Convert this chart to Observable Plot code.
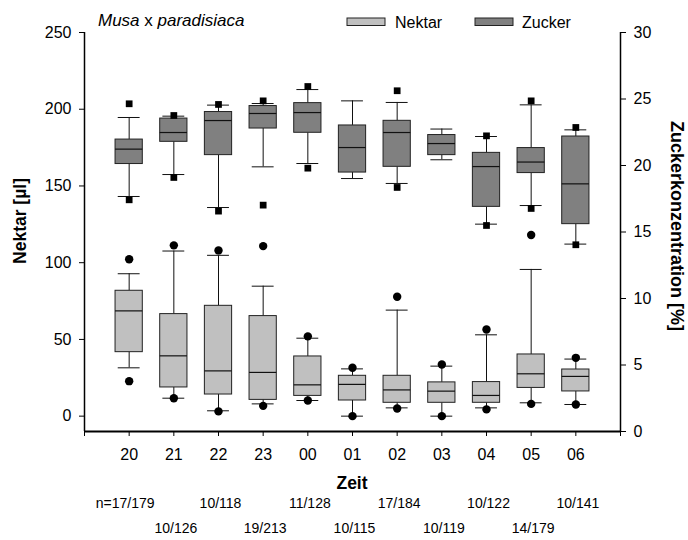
<!DOCTYPE html>
<html>
<head>
<meta charset="utf-8">
<script src="https://cdn.jsdelivr.net/npm/d3@7"></script>
<script src="https://cdn.jsdelivr.net/npm/@observablehq/plot@0.6"></script>
<style>
  html, body { margin: 0; padding: 0; background: #fff; }
  svg { display: block; }
</style>
</head>
<body>
<div id="chart"></div>
<script>
// ---- data ----
const hours = ["20","21","22","23","00","01","02","03","04","05","06"];
const nLabels = ["n=17/179","10/126","10/118","19/213","11/128","10/115","17/184","10/119","10/122","14/179","10/141"];
const seriesNames = ["Nektar", "Zucker"];
const seriesColors = ["#c0c0c0", "#808080"];

// Nektar [µl]
const nekOutHi   = [102.2, 111.3, 108.0, 110.8, 52.0, 31.5, 77.8, 33.7, 56.5, 118.0, 38.0];
const nekWhiskHi = [92.8, 107.6, 104.8, 84.7, 50.8, 30.8, 69.1, 32.6, 53.0, 95.6, 37.2];
const nekQ3      = [81.7, 66.5, 71.9, 65.2, 38.9, 26.3, 26.3, 22.0, 22.2, 40.2, 30.4];
const nekMed     = [68.6, 39.3, 29.5, 28.5, 20.4, 20.7, 17.1, 16.3, 13.5, 27.6, 25.9];
const nekQ1      = [41.7, 18.7, 14.1, 10.6, 13.2, 10.2, 8.7, 8.7, 8.7, 18.4, 16.1];
const nekWhiskLo = [31.5, 11.7, 3.5, 8.0, 10.2, 0.0, 5.4, 0.0, 5.4, 8.7, 7.6];
const nekOutLo   = [22.8, 11.7, 3.1, 6.7, 10.2, 0.0, 5.0, 0.0, 4.4, 8.0, 7.6];

// Zuckerkonzentration [%]
const zucOutHi   = [24.64, 23.76, 24.59, 24.86, 25.94, null, 25.62, null, 22.23, 24.86, 22.86];
const zucWhiskHi = [23.61, 23.71, 24.54, 24.66, 25.71, 24.86, 24.74, 22.74, 22.18, 24.56, 22.68];
const zucQ3      = [21.95, 23.53, 24.02, 24.47, 24.69, 23.01, 23.36, 22.29, 20.95, 21.31, 22.18];
const zucMed     = [21.23, 22.48, 23.38, 23.91, 23.98, 21.35, 22.48, 21.65, 19.92, 20.26, 18.62];
const zucQ1      = [20.11, 21.78, 20.78, 22.78, 22.46, 19.47, 19.90, 20.78, 16.89, 19.43, 15.59];
const zucWhiskLo = [17.67, 19.32, 16.84, 19.90, 20.15, 19.02, 18.65, 20.43, 15.59, 16.99, 14.09];
const zucOutLo   = [17.42, 19.10, 16.57, 17.02, 19.80, null, 18.35, null, 15.49, 16.77, 14.04];

const leftTicks = [0, 50, 100, 150, 200, 250];
const rightTicks = [0, 5, 10, 15, 20, 25, 30];

// ---- scales mapping: right axis (0..30 %) onto left units (-10..250) ----
const yMin = -10, yMax = 250, rMax = 30;
const toY = s => s == null ? null : yMin + s * (yMax - yMin) / rMax;
const fromY = v => (v - yMin) * rMax / (yMax - yMin);

const rows = hours.map((h, i) => ({
  x: i + 1, h, n: nLabels[i], idx: i,
  nOH: nekOutHi[i], nWH: nekWhiskHi[i], nQ3: nekQ3[i], nM: nekMed[i], nQ1: nekQ1[i], nWL: nekWhiskLo[i], nOL: nekOutLo[i],
  zOH: toY(zucOutHi[i]), zWH: toY(zucWhiskHi[i]), zQ3: toY(zucQ3[i]), zM: toY(zucMed[i]), zQ1: toY(zucQ1[i]), zWL: toY(zucWhiskLo[i]), zOL: toY(zucOutLo[i])
}));

const BW = 0.305, CW = 0.245;
const FONT = "Liberation Sans, Arial, sans-serif";

function boxMarks(p, fill, symbol, r) {
  return [
    Plot.ruleX(rows, {x: "x", y1: p + "WL", y2: p + "Q1", stroke: "#111", strokeWidth: 1}),
    Plot.ruleX(rows, {x: "x", y1: p + "Q3", y2: p + "WH", stroke: "#111", strokeWidth: 1}),
    Plot.ruleY(rows, {y: p + "WH", x1: d => d.x - CW, x2: d => d.x + CW, stroke: "#111", strokeWidth: 1}),
    Plot.ruleY(rows, {y: p + "WL", x1: d => d.x - CW, x2: d => d.x + CW, stroke: "#111", strokeWidth: 1}),
    Plot.rect(rows, {x1: d => d.x - BW, x2: d => d.x + BW, y1: p + "Q1", y2: p + "Q3", fill, stroke: "#222", strokeWidth: 1}),
    Plot.ruleY(rows, {y: p + "M", x1: d => d.x - BW, x2: d => d.x + BW, stroke: "#111", strokeWidth: 1.2}),
    Plot.dot(rows.filter(d => d[p + "OH"] != null), {x: "x", y: p + "OH", r, symbol, fill: "#000", stroke: "none"}),
    Plot.dot(rows.filter(d => d[p + "OL"] != null), {x: "x", y: p + "OL", r, symbol, fill: "#000", stroke: "none"})
  ];
}

const chart = Plot.plot({
  width: 688,
  height: 540,
  marginLeft: 84,
  marginRight: 68,
  marginTop: 32,
  marginBottom: 109,
  style: {fontFamily: FONT, fontSize: "16px", color: "#000", background: "#fff", overflow: "visible"},
  x: {domain: [0, 12]},
  y: {domain: [yMin, yMax]},
  marks: [
    ...boxMarks("n", seriesColors[0], "circle", 4.2),
    ...boxMarks("z", seriesColors[1], "square", 3.8),
    Plot.ruleX([0, 12], {stroke: "#000", strokeWidth: 1.5}),
    Plot.ruleY([yMin], {stroke: "#000", strokeWidth: 2}),
    Plot.axisY({anchor: "left", ticks: leftTicks, tickSize: 5, tickPadding: 8, label: null, fontSize: 16}),
    Plot.axisY({anchor: "right", ticks: rightTicks.map(toY), tickFormat: v => String(Math.round(fromY(v))), tickSize: 5, tickPadding: 8, label: null, fontSize: 16}),
    Plot.axisX({ticks: d3.range(0, 13), tickFormat: i => hours[i - 1] ?? "", tickSize: 5, tickPadding: 12, label: null, fontSize: 16}),
    Plot.text(rows.filter(d => d.idx === 0), {x: "x", text: "n", frameAnchor: "bottom", dy: 76.5, dx: -4, fontSize: 14}),
    Plot.text(rows.filter(d => d.idx > 0 && d.idx % 2 === 0), {x: "x", text: "n", frameAnchor: "bottom", dy: 76.5, dx: 2, fontSize: 14}),
    Plot.text(rows.filter(d => d.idx % 2 === 1), {x: "x", text: "n", frameAnchor: "bottom", dy: 101.5, dx: 2, fontSize: 14})
  ]
});

document.getElementById("chart").appendChild(chart);

// ---- titles & legend ----
const s = d3.select(chart);
const t = s.append("text").attr("x", 98).attr("y", 26).attr("text-anchor", "start")
  .attr("font-family", FONT).attr("font-size", 17).attr("fill", "#000");
t.append("tspan").attr("font-style", "italic").text("Musa");
t.append("tspan").text(" x ");
t.append("tspan").attr("font-style", "italic").text("paradisiaca");

seriesNames.forEach((name, i) => {
  s.append("rect").attr("x", 347 + i * 128).attr("y", 18).attr("width", 38).attr("height", 7.5)
    .attr("fill", seriesColors[i]).attr("stroke", "#222").attr("stroke-width", 1);
  s.append("text").attr("x", 395 + i * 127).attr("y", 27.5).attr("text-anchor", "start")
    .attr("font-family", FONT).attr("font-size", 16).attr("fill", "#000").text(name);
});

s.append("text").attr("transform", "translate(20,221) rotate(-90)")
  .attr("text-anchor", "middle").attr("dy", "0.35em")
  .attr("font-family", FONT).attr("font-size", 17.5).attr("font-weight", "bold").text("Nektar [µl]");

s.append("text").attr("transform", "translate(677,226) rotate(90)")
  .attr("text-anchor", "middle").attr("dy", "0.35em")
  .attr("font-family", FONT).attr("font-size", 18).attr("font-weight", "bold").text("Zuckerkonzentration [%]");

s.append("text").attr("x", 352).attr("y", 489)
  .attr("text-anchor", "middle")
  .attr("font-family", FONT).attr("font-size", 17.5).attr("font-weight", "bold").text("Zeit");
</script>
</body>
</html>
